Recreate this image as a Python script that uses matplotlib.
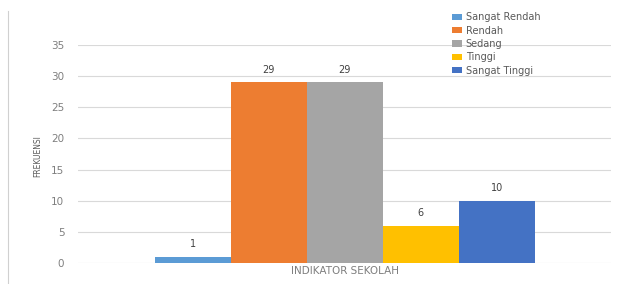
import numpy as np
import matplotlib
matplotlib.use("Agg")
import matplotlib.pyplot as plt
from matplotlib.lines import Line2D

# data
series = ["Sangat Rendah", "Rendah", "Sedang", "Tinggi", "Sangat Tinggi"]
values = [1, 29, 29, 6, 10]
category = ["INDIKATOR SEKOLAH"]
colors = ["#5B9BD5", "#ED7D31", "#A5A5A5", "#FFC000", "#4472C4"]

fig = plt.figure(figsize=(6.21, 2.84), dpi=100)
ax = fig.add_axes([0.126, 0.074, 0.858, 0.768])

bw = 0.1426
offsets = (np.arange(len(series)) - (len(series) - 1) / 2) * bw
for off, name, val, col in zip(offsets, series, values, colors):
    ax.bar(off, val, width=bw, color=col, label=name, zorder=3)
    ax.text(off, val + 1.2, str(val), ha="center", va="bottom",
            fontsize=7, color="#404040")

ax.set_xlim(-0.5, 0.5)
ax.set_ylim(0, 35)
ax.set_yticks(np.arange(0, 36, 5))
ax.set_xticks([0])
ax.set_xticklabels(category, fontsize=7, color="#595959")
ax.tick_params(axis="both", length=0, colors="#7f7f7f", labelsize=7.5)
ax.tick_params(axis="y", pad=10)
ax.tick_params(axis="x", pad=2)
ax.yaxis.grid(True, color="#d9d9d9", linewidth=0.8, zorder=0)
for s in ax.spines.values():
    s.set_visible(False)

fig.text(0.061, 0.45, "FREKUENSI", rotation=90, fontsize=6, color="#595959",
         ha="center", va="center", fontstretch="condensed")

ax.legend(loc="upper left", bbox_to_anchor=(0.685, 1.19), frameon=False,
          fontsize=7, handlelength=1.0, handleheight=0.6, handletextpad=0.4,
          labelspacing=0.35, labelcolor="#595959")

# faint frame line at far left
fig.add_artist(Line2D([0.013, 0.013], [0.0, 0.96], color="#d0d0d0", linewidth=0.8))

fig.savefig("out.png", dpi=100)
